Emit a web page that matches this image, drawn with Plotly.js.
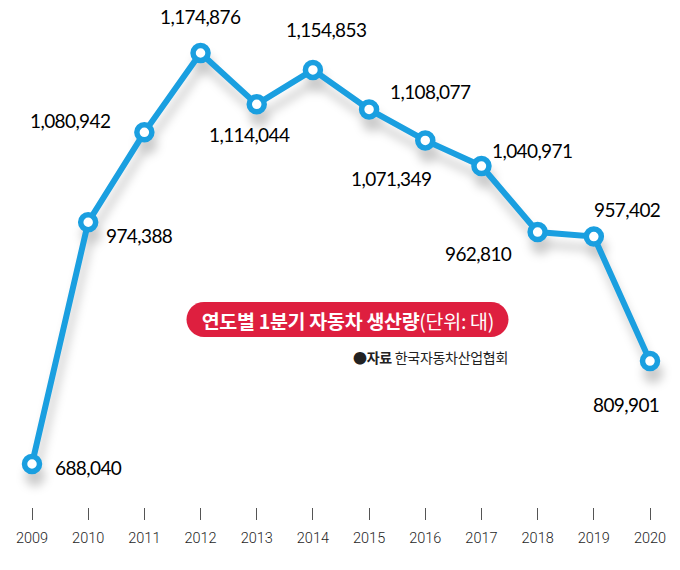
<!DOCTYPE html>
<html>
<head>
<meta charset="utf-8">
<script src="https://cdn.plot.ly/plotly-3.0.1.min.js"></script>
<style>
  html, body { margin: 0; padding: 0; background: #fff; }
  #chart { width: 680px; height: 570px; }
  .scatterlayer { filter: drop-shadow(3px 12px 5px rgba(0,0,0,0.20)); }
  .annotation-text { letter-spacing: -0.6px; }
  g.annotation[data-index="12"] .annotation-text,
  g.annotation[data-index="13"] .annotation-text { letter-spacing: -0.3px; }
</style>
</head>
<body>
<div id="chart"></div>
<script>
// Data: 1st-quarter car production by year (units)
const years = [2009, 2010, 2011, 2012, 2013, 2014, 2015, 2016, 2017, 2018, 2019, 2020];
const production = [688040, 974388, 1080942, 1174876, 1114044, 1154853, 1108077, 1071349, 1040971, 962810, 957402, 809901];
const tickLabels = ["2009", "2010", "2011", "2012", "2013", "2014", "2015", "2016", "2017", "2018", "2019", "2020"];
const titleText = "<b>연도별 1분기 자동차 생산량</b>(단위: 대)";
const sourceText = "●<b>자료</b> 한국자동차산업협회";

// Label placement (layout only): [xanchor, xshift, yshift]
const labelPlace = [
  ["left", 21, -3],
  ["left", 16, -13],
  ["right", -32, 12],
  ["center", 0, 37],
  ["center", -7, -30],
  ["center", 13, 40],
  ["left", 19, 18],
  ["center", -34, -38],
  ["left", 9, 16],
  ["center", -59, -21],
  ["center", 33, 27],
  ["center", -24, -43]
];

const fmt = v => v.toLocaleString("en-US");

const blue = "#1a9fe0";

const trace = {
  x: years,
  y: production,
  type: "scatter",
  mode: "lines+markers",
  line: { color: blue, width: 6 },
  marker: { size: 15, color: "#ffffff", line: { color: blue, width: 5.5 } },
  hoverinfo: "skip"
};

const annotations = years.map((yr, i) => ({
  x: yr, y: production[i], xref: "x", yref: "y",
  text: fmt(production[i]),
  showarrow: false,
  xanchor: labelPlace[i][0], yanchor: "middle",
  xshift: labelPlace[i][1], yshift: labelPlace[i][2],
  font: { family: "Lato, 'Noto Sans', sans-serif", size: 19, color: "#000" }
}));

annotations.push({
  x: 347.5 / 680, y: (507 - 320) / 507, xref: "paper", yref: "paper",
  text: titleText, showarrow: false, xanchor: "center", yanchor: "middle",
  font: { family: "'Noto Sans CJK KR', sans-serif", size: 19.5, color: "#ffffff" }
});
annotations.push({
  x: 508 / 680, y: (507 - 357) / 507, xref: "paper", yref: "paper",
  text: sourceText, showarrow: false, xanchor: "right", yanchor: "middle",
  font: { family: "'Noto Sans CJK KR', sans-serif", size: 14, color: "#222" }
});

// Rounded pill behind the title (pixel-sized path)
const w2 = 161, h2 = 17.5, r = 17.5, k = 0.5523 * r;
const sx = w2 - r;
const pillPath = [
  `M ${-sx},${-h2}`, `L ${sx},${-h2}`,
  `C ${sx + k},${-h2} ${w2},${-k} ${w2},0`,
  `C ${w2},${k} ${sx + k},${h2} ${sx},${h2}`,
  `L ${-sx},${h2}`,
  `C ${-sx - k},${h2} ${-w2},${k} ${-w2},0`,
  `C ${-w2},${-k} ${-sx - k},${-h2} ${-sx},${-h2}`, "Z"
].join(" ");

const layout = {
  width: 680, height: 570,
  margin: { l: 0, r: 0, t: 0, b: 63 },
  paper_bgcolor: "#ffffff", plot_bgcolor: "#ffffff",
  showlegend: false,
  xaxis: {
    range: [2009 - 32 / 56.18, 2020 + 30 / 56.18],
    tickvals: years, ticktext: tickLabels,
    ticks: "outside", ticklen: 12, tickwidth: 1, tickcolor: "#555",
    ticklabelstandoff: 6,
    showgrid: false, zeroline: false, showline: false,
    tickfont: { family: "Roboto, sans-serif", size: 14.5, color: "#1e1e1e", weight: 300 },
    fixedrange: true
  },
  yaxis: {
    range: [637106, 1237655],
    visible: false, showgrid: false, zeroline: false, fixedrange: true
  },
  shapes: [{
    type: "path", xref: "paper", yref: "paper",
    xsizemode: "pixel", ysizemode: "pixel",
    xanchor: 347.5 / 680, yanchor: (507 - 319.5) / 507,
    path: pillPath,
    fillcolor: "#de1f3f", line: { width: 0 }, layer: "below"
  }],
  annotations: annotations
};

Plotly.newPlot("chart", [trace], layout, { displayModeBar: false, staticPlot: true });
</script>
</body>
</html>
